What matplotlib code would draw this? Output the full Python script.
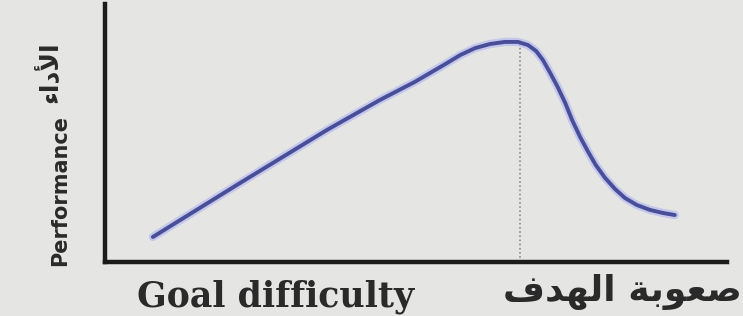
import matplotlib
matplotlib.use("Agg")
from matplotlib import pyplot as plt

# curve (x: goal difficulty, y: performance, 0-100 units)
difficulty = [7.7, 21.7, 35.7, 44.2, 49.8, 54.7, 57.1, 59.5, 61.9, 64.3,
              66.4, 68.0, 69.3, 70.4, 71.5, 72.7, 74.0, 75.1, 76.4, 77.7,
              78.9, 80.4, 82.0, 83.6, 85.5, 87.6, 89.7, 91.6]
performance = [9.7, 30.6, 51.2, 62.8, 69.8, 76.7, 80.2, 82.9, 84.5, 85.3,
               85.3, 84.1, 81.8, 78.3, 73.6, 68.2, 61.6, 55.0, 48.4, 42.6,
               37.6, 32.6, 28.3, 24.8, 22.1, 20.2, 19.0, 18.2]
peak_x = 66.7
peak_y = 85.3

x_label_en = "Goal difficulty"
x_label_ar = "\ufed1\ufeaa\ufeec\ufedf\ufe8d \ufe94\ufe91\ufeee\ufecc\ufebb"  # صعوبة الهدف
y_label_en = "Performance"
y_label_ar = "\ufe80\ufe8d\ufea9\ufef7\ufe8d"  # الأداء

bg = "#e5e5e3"
fig = plt.figure(figsize=(7.43, 3.16), dpi=100, facecolor=bg)
ax = fig.add_axes([105 / 743, 54 / 316, 622 / 743, 258 / 316])
ax.set_facecolor(bg)

ax.plot(difficulty, performance, color="#aeb4f2", lw=6, alpha=0.6,
        solid_capstyle="round", solid_joinstyle="round", zorder=2)
ax.plot(difficulty, performance, color="#484e98", lw=2.8,
        solid_capstyle="round", solid_joinstyle="round", zorder=3)
ax.plot([peak_x, peak_x], [0, peak_y], color="#8a8a8a", lw=1.2,
        ls=(0, (1, 1.5)), zorder=1)

ax.set_xlim(0, 100)
ax.set_ylim(0, 100)
for s in ["top", "right"]:
    ax.spines[s].set_visible(False)
for s in ["left", "bottom"]:
    ax.spines[s].set_linewidth(3.2)
    ax.spines[s].set_color("#1c1c1c")
ax.set_xticks([])
ax.set_yticks([])

fig.text(137 / 743, 1 - 297 / 316, x_label_en, ha="left", va="center",
         family="DejaVu Serif", weight="bold", size=25, color="#2a2a2a")
fig.text(742 / 743, 1 - 292 / 316, x_label_ar, ha="right", va="center",
         family="DejaVu Sans", weight="bold", size=26, color="#2a2a2a")
fig.text(60 / 743, 1 - 190 / 316, y_label_en, ha="center", va="center",
         rotation=90, family="DejaVu Sans", weight="bold", size=15,
         color="#2a2a2a")
fig.text(50 / 743, 1 - 72 / 316, y_label_ar, ha="center", va="center",
         rotation=90, family="DejaVu Sans", weight="bold", size=18,
         color="#2a2a2a")

fig.savefig("out.png", dpi=100, facecolor=bg)
